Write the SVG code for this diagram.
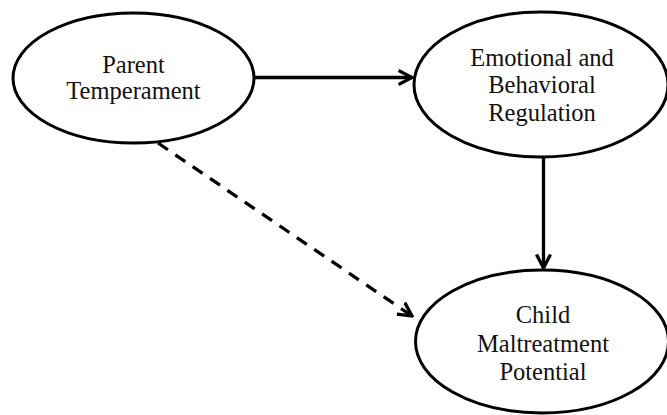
<svg xmlns="http://www.w3.org/2000/svg" width="667" height="415" viewBox="0 0 667 415">
<style>
.node ellipse{fill:#fff;stroke:#000;stroke-width:3}
.node text{font-family:"Liberation Serif","Times New Roman",serif;font-size:24.5px;fill:#111;text-anchor:middle}
.edge{stroke:#000;stroke-width:3.3;fill:none}
.dash{stroke-dasharray:12 9}
</style>
<defs>
<marker id="arr" viewBox="0 0 16 18" refX="14" refY="9" markerWidth="16" markerHeight="18" markerUnits="userSpaceOnUse" orient="auto">
<path d="M0.5,2 L14,9 L0.5,16" fill="none" stroke="#000" stroke-width="3.3" stroke-linejoin="miter"/>
</marker>
</defs>
<rect width="667" height="415" fill="#fff"/>
<g id="connectors">
<line class="edge" x1="254" y1="77.5" x2="412" y2="77.5" marker-end="url(#arr)"/>
<line class="edge" x1="543.5" y1="157" x2="543.5" y2="268" marker-end="url(#arr)"/>
<line class="edge dash" x1="158" y1="143" x2="412" y2="316" marker-end="url(#arr)"/>
</g>
<g id="parent-temperament" class="node">
<ellipse cx="133.5" cy="78" rx="120.5" ry="65"/>
<text x="133.5" y="72.5">Parent</text>
<text x="133.5" y="99">Temperament</text>
</g>
<g id="emotional-behavioral-regulation" class="node">
<ellipse cx="541" cy="84.5" rx="127" ry="72.5"/>
<text x="542" y="65.5">Emotional and</text>
<text x="542" y="93">Behavioral</text>
<text x="542" y="120.5">Regulation</text>
</g>
<g id="child-maltreatment-potential" class="node">
<ellipse cx="542" cy="341.5" rx="126.5" ry="71.5"/>
<text x="543" y="322.5">Child</text>
<text x="543" y="351.5">Maltreatment</text>
<text x="543" y="380">Potential</text>
</g>
</svg>
